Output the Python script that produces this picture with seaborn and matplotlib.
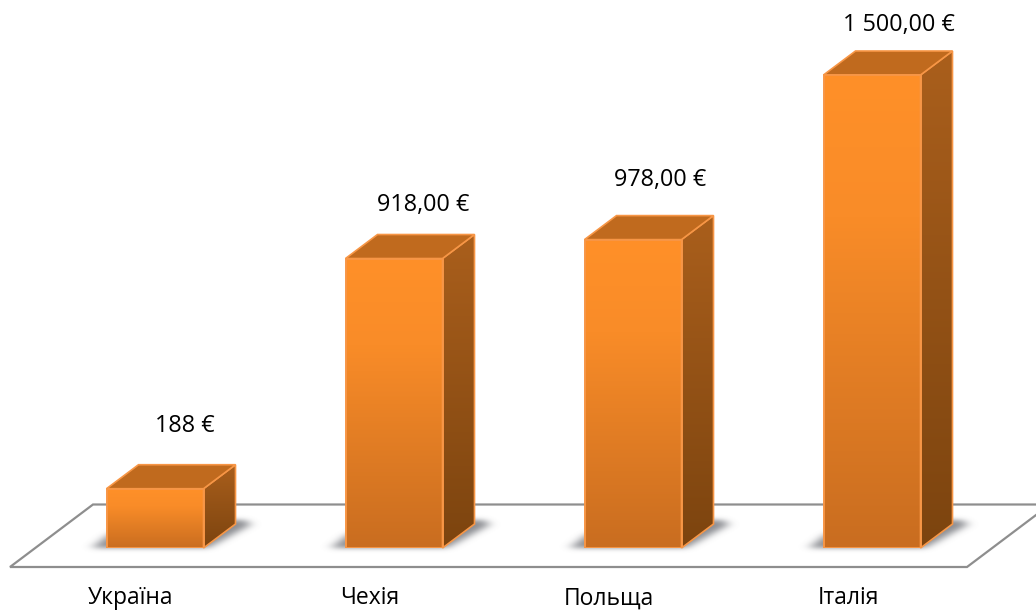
import numpy as np
import pandas as pd
import seaborn as sns
import matplotlib
matplotlib.use("Agg")
import matplotlib.pyplot as plt
from matplotlib.colors import LinearSegmentedColormap
from matplotlib.path import Path
from matplotlib.patches import Polygon
from matplotlib.transforms import ScaledTranslation

categories = ["Україна", "Чехія", "Польща", "Італія"]
values = [188, 918, 978, 1500]
value_labels = ["188 €", "918,00 €", "978,00 €", "1 500,00 €"]

# pixel offsets of each value label from the top-centre of its bar
label_dx = [30, 29, 27, 27]
label_dy = [63, 54, 60, 50]

W, H, DPI = 1036, 610, 100
BASE_PX = 548
PX_PER_VALUE = 473 / 1500
SPACING = 239
FIRST_X = 155
DEPTH_X, DEPTH_Y = 32, 24
BAR_PX = 97

sns.set_theme(style="white")
plt.rcParams["font.family"] = ["Open Sans", "DejaVu Sans"]

fig = plt.figure(figsize=(W / DPI, H / DPI), dpi=DPI, facecolor="white")
ax = fig.add_axes([0, (H - BASE_PX) / H, 1, BASE_PX / H])

df = pd.DataFrame({"country": categories, "value": values})
sns.barplot(data=df, x="country", y="value", ax=ax, width=BAR_PX / SPACING,
            color="#FF9029", linewidth=1.4, edgecolor="#F79646", saturation=1, zorder=5)

xlim = (-FIRST_X / SPACING, (W - FIRST_X) / SPACING)
ylim = (0, BASE_PX / PX_PER_VALUE)
ax.set_xlim(*xlim)
ax.set_ylim(*ylim)
ax.set_xlabel("")
ax.set_ylabel("")
ax.set_yticks([])
for s in ax.spines.values():
    s.set_visible(False)
ax.patch.set_alpha(0)


def px(dx, dy):
    """Pixel offset (right, up) converted to data units."""
    return dx / SPACING, dy / PX_PER_VALUE


def floor_pt(x_px, y_px):
    return (xlim[0] + x_px / SPACING, (BASE_PX - y_px) / PX_PER_VALUE)


def blur(a, sigma, axis):
    r = int(3 * sigma)
    g = np.exp(-0.5 * (np.arange(-r, r + 1) / sigma) ** 2)
    g /= g.sum()
    return np.apply_along_axis(lambda m: np.convolve(m, g, mode="same"), axis, a)


def shadow_image():
    """Blurred floor shadow in pixel space; origin (30, 14) is the bar's lower-left corner."""
    nx, ny = BAR_PX + DEPTH_X + 70, 62
    xx, yy = np.meshgrid(np.arange(nx) + 0.5 - 30, np.arange(ny) + 0.5 - 14)
    outline = Path([(-15, 0), (BAR_PX + 4, 0), (BAR_PX + DEPTH_X + 14, 23),
                    (BAR_PX + DEPTH_X + 10, 28), (DEPTH_X, 28), (0, 12)])
    mask = outline.contains_points(np.c_[xx.ravel(), yy.ravel()]).reshape(xx.shape).astype(float)
    mask = blur(blur(mask, 5.5, 1), 2.4, 0)
    rgba = np.zeros((ny, nx, 4))
    rgba[..., :3] = matplotlib.colors.to_rgb("#6E7076")
    rgba[..., 3] = np.clip(mask, 0, 1) * 0.8
    return rgba, nx, ny


floor = Polygon([floor_pt(10, 567), floor_pt(967, 567), floor_pt(1050, 504.5), floor_pt(93, 504.5)],
                closed=True, facecolor="white", edgecolor="#8E8E8E", linewidth=1.6,
                joinstyle="miter", zorder=1, clip_on=False)
ax.add_patch(floor)

front_cmap = LinearSegmentedColormap.from_list(
    "front", [(0, "#FF9029"), (0.3, "#F98C28"), (1, "#C96D20")])
side_cmap = LinearSegmentedColormap.from_list("side", ["#AA5F1C", "#7C440F"])
grad = np.linspace(0, 1, 256)[:, None]
edge = "#F79646"
ddx, ddy = px(DEPTH_X, DEPTH_Y)
shadow, sh_nx, sh_ny = shadow_image()

for i, bar in enumerate(ax.patches[:len(values)]):
    x0, w = bar.get_x(), bar.get_width()
    h = bar.get_height()
    x1 = x0 + w

    # soft shadow on the floor
    ax.imshow(shadow, aspect="auto", origin="lower", interpolation="bilinear", zorder=2, clip_on=False,
              extent=(x0 - px(30, 0)[0], x0 + px(sh_nx - 30, 0)[0],
                      px(0, -14)[1], px(0, sh_ny - 14)[1]))

    # front face gradient, under the seaborn bar's outline
    bar.set_facecolor("none")
    ax.imshow(grad, cmap=front_cmap, aspect="auto", extent=(x0, x1, 0, h),
              origin="upper", zorder=4, interpolation="bilinear", clip_on=False)

    # side face
    side = Polygon([(x1, 0), (x1 + ddx, ddy), (x1 + ddx, h + ddy), (x1, h)], closed=True,
                   facecolor="none", edgecolor=edge, linewidth=1.2, zorder=4.5, clip_on=False)
    ax.add_patch(side)
    im2 = ax.imshow(grad, cmap=side_cmap, aspect="auto", extent=(x1, x1 + ddx, 0, h + ddy),
                    origin="upper", zorder=4.2, interpolation="bilinear")
    im2.set_clip_path(side)

    # top face
    top = Polygon([(x0, h), (x1, h), (x1 + ddx, h + ddy), (x0 + ddx, h + ddy)], closed=True,
                  facecolor="#C06A1E", edgecolor=edge, linewidth=1.2, zorder=4.5)
    ax.add_patch(top)

    ax.annotate(value_labels[i], xy=(x0 + w / 2, h), xycoords="data",
                xytext=(label_dx[i] * 72 / DPI, label_dy[i] * 72 / DPI),
                textcoords="offset points", ha="center", va="center",
                fontsize=16.8, color="black", zorder=6)

ax.set_xlim(*xlim)
ax.set_ylim(*ylim)

ax.tick_params(axis="x", length=0, pad=27.5, labelsize=16.5, colors="black")
shift = ScaledTranslation(-24 / DPI, 0, fig.dpi_scale_trans)
for lab in ax.get_xticklabels():
    lab.set_transform(lab.get_transform() + shift)

fig.savefig("out.png", dpi=DPI, facecolor="white")
